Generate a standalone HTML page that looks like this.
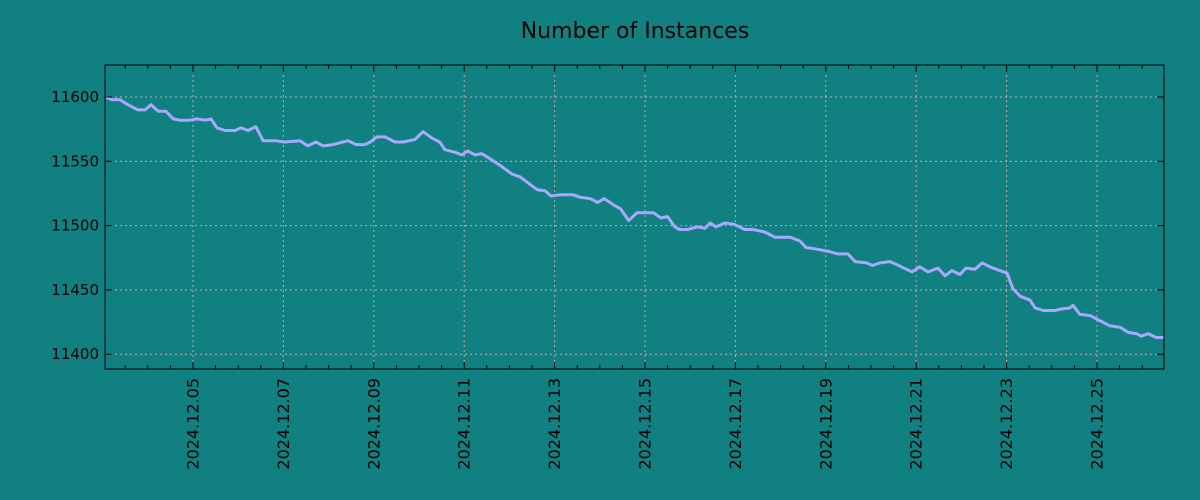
<!DOCTYPE html>
<html><head><meta charset="utf-8"><style>
html,body{margin:0;padding:0;background:#108080;}
svg{display:block;font-family:"DejaVu Sans","Liberation Sans",sans-serif;}
</style></head><body>
<svg id="chart" width="1200" height="500" xmlns="http://www.w3.org/2000/svg">
<rect width="1200" height="500" fill="#108080"/>
<text x="635" y="38" text-anchor="middle" font-size="22" fill="#000">Number of Instances</text>
<g id="grid"></g>
<g id="series"></g>
<g id="axes"></g>
</svg>
<script>
// days since 2024-12-03 00:00
const days = [0.05,0.21,0.38,0.56,0.78,0.94,1.07,1.23,1.40,1.56,1.71,1.93,2.09,2.26,2.40,2.53,2.71,2.93,3.06,3.22,3.39,3.55,3.81,4.03,4.37,4.54,4.72,4.88,5.10,5.43,5.61,5.81,5.92,6.07,6.25,6.47,6.65,6.91,7.09,7.29,7.46,7.57,7.80,7.95,8.08,8.24,8.39,8.57,8.79,9.06,9.23,9.46,9.61,9.79,9.92,10.12,10.41,10.57,10.79,10.95,11.10,11.31,11.46,11.64,11.82,12.19,12.35,12.50,12.66,12.77,12.95,13.15,13.33,13.44,13.57,13.77,13.97,14.21,14.39,14.65,14.87,15.21,15.43,15.56,15.76,16.05,16.27,16.49,16.65,16.91,17.03,17.20,17.42,17.55,17.73,17.91,18.08,18.26,18.48,18.64,18.79,18.97,19.10,19.30,19.46,19.63,19.85,20.01,20.14,20.30,20.52,20.63,20.81,21.07,21.18,21.40,21.47,21.62,21.85,22.07,22.29,22.51,22.69,22.87,22.98,23.13,23.31,23.49];
const instances = [11600,11598,11598,11594,11590,11590,11594,11589,11589,11583,11582,11582,11583,11582,11583,11576,11574,11574,11576,11574,11577,11566,11566,11565,11566,11562,11565,11562,11563,11566,11563,11563,11565,11569,11569,11565,11565,11567,11573,11568,11565,11559,11557,11555,11558,11555,11556,11552,11547,11540,11538,11532,11528,11527,11523,11524,11524,11522,11521,11518,11521,11516,11513,11504,11510,11510,11506,11507,11499,11497,11497,11499,11498,11502,11499,11502,11501,11497,11497,11495,11491,11491,11488,11483,11482,11480,11478,11478,11472,11471,11469,11471,11472,11470,11467,11464,11468,11464,11467,11461,11465,11462,11467,11466,11471,11468,11465,11463,11451,11445,11442,11436,11434,11434,11435,11436,11438,11431,11430,11426,11422,11421,11417,11416,11414,11416,11413,11413];
const yTicks = [11400,11450,11500,11550,11600];
const xTickDays = [2,4,6,8,10,12,14,16,18,20,22];
const xTickLabels = ["2024.12.05","2024.12.07","2024.12.09","2024.12.11","2024.12.13","2024.12.15","2024.12.17","2024.12.19","2024.12.21","2024.12.23","2024.12.25"];

const L=105,R=1164,T=65,B=369;
const d0=(105-102.6)/45.2, d1=(1164-102.6)/45.2;
const v0=11388.5, v1=11624.9;
const xs=d=>L+(d-d0)/(d1-d0)*(R-L);
const ys=v=>B-(v-v0)/(v1-v0)*(B-T);
const NS="http://www.w3.org/2000/svg";
function mk(tag,attrs,parent){const e=document.createElementNS(NS,tag);for(const k in attrs)e.setAttribute(k,attrs[k]);parent.appendChild(e);return e;}
const grid=document.getElementById('grid'),axes=document.getElementById('axes'),series=document.getElementById('series');

yTicks.forEach(v=>{
  const y=ys(v);
  const g=mk('line',{x1:L,x2:R,y1:y,y2:y,stroke:'#c8a8a8','stroke-width':1,'stroke-dasharray':'2,3'},grid);
  
  
  const t1=mk('line',{x1:L,x2:L+7,y1:y,y2:y,stroke:'#000'},axes);
  
  
  const t2=mk('line',{x1:R-7,x2:R,y1:y,y2:y,stroke:'#000'},axes);
  
  
  const lb=mk('text',{x:L-6,y:y+5,'text-anchor':'end','font-size':15,fill:'#000'},axes);
  lb.textContent=v;
  
  
});
for(let d=Math.ceil(d0*2)/2; d<=d1; d+=0.5){
  const x=xs(d);
  const major=xTickDays.indexOf(d)>=0;
  const len=major?7:4;
  const a=mk('line',{x1:x,x2:x,y1:B,y2:B-len,stroke:'#000'},axes);
  
  
  const b=mk('line',{x1:x,x2:x,y1:T,y2:T+len,stroke:'#000'},axes);
  
  
}
xTickDays.forEach((d,i)=>{
  const x=xs(d);
  const g=mk('line',{x1:x,x2:x,y1:T,y2:B,stroke:'#c8a8a8','stroke-width':1,'stroke-dasharray':'2,3'},grid);
  
  
  const lb=mk('text',{x:0,y:0,'text-anchor':'end','font-size':16,fill:'#000',transform:`translate(${x+5.5},${B+9}) rotate(-90)`},axes);
  lb.textContent=xTickLabels[i];
  
  
});
const pts=days.map((d,i)=>xs(d).toFixed(1)+','+ys(instances[i]).toFixed(1)).join(' ');
const pl=mk('polyline',{points:pts,fill:'none',stroke:'#a8a8ff','stroke-width':3,'stroke-linejoin':'round'},series);


const fr=mk('rect',{x:L,y:T,width:R-L,height:B-T,fill:'none',stroke:'#000','stroke-width':1},axes);


</script>
</body></html>
